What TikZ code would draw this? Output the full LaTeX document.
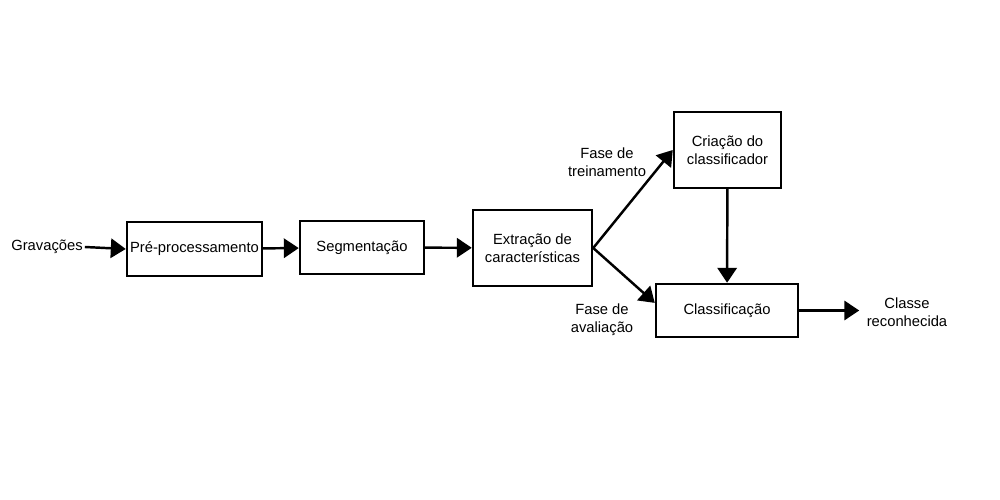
\documentclass[tikz,border=0pt]{standalone}
\usepackage{fontspec}
\setmainfont{Liberation Sans}
\usetikzlibrary{arrows.meta}

\tikzset{
  bloco/.style={draw, line width=1.4pt, fill=white, align=center, inner sep=1pt},
  texto/.style={align=center, inner sep=1pt},
  seta/.style={line width=1.4pt, -{Triangle[length=8.5pt, width=11pt]}}
}

\begin{document}
\begin{tikzpicture}[font=\fontsize{8.4}{10.2}\selectfont]
        \useasboundingbox (0,0) rectangle (20,-10);                      %
        \node [texto] (grav)  at (0.94,-4.94)  {Gravações};               %
        \node [bloco, minimum width=2.7cm, minimum height=1.08cm]
              (pre)   at (3.89,-4.98)  {Pré-processamento};              %
        \node [bloco, minimum width=2.48cm, minimum height=1.06cm]
              (seg)   at (7.24,-4.95)  {Segmentação};                    %
        \node [bloco, minimum width=2.38cm, minimum height=1.52cm]
              (ext)   at (10.65,-4.96) {Extração de\\características};   %
        \node [bloco, minimum width=2.14cm, minimum height=1.52cm]
              (cria)  at (14.55,-3.0)  {Criação do\\classificador};      %
        \node [bloco, minimum width=2.84cm, minimum height=1.06cm]
              (clas)  at (14.54,-6.21) {Classificação};                  %
        \node [texto] (rec)   at (18.14,-6.24) {Classe\\reconhecida};     %
        \node [texto] (trein) at (12.14,-3.24) {Fase de\\treinamento};    %
        \node [texto] (aval)  at (12.04,-6.4)  {Fase de\\avaliação};      %

        \draw [seta] (grav.east) -- (pre.west);                          %
        \draw [seta] (pre)  -- (seg);                                    %
        \draw [seta] (seg)  -- (ext);                                    %
        \draw [seta] (ext.east) -- (cria.west);                          % treino
        \draw [seta] (ext.east) -- (clas.174);                           % avaliacao
        \draw [seta] (cria) -- (clas);                                   %
        \draw [seta] (clas.east) -- ([xshift=1.2cm]clas.east);           %
\end{tikzpicture}
\end{document}
